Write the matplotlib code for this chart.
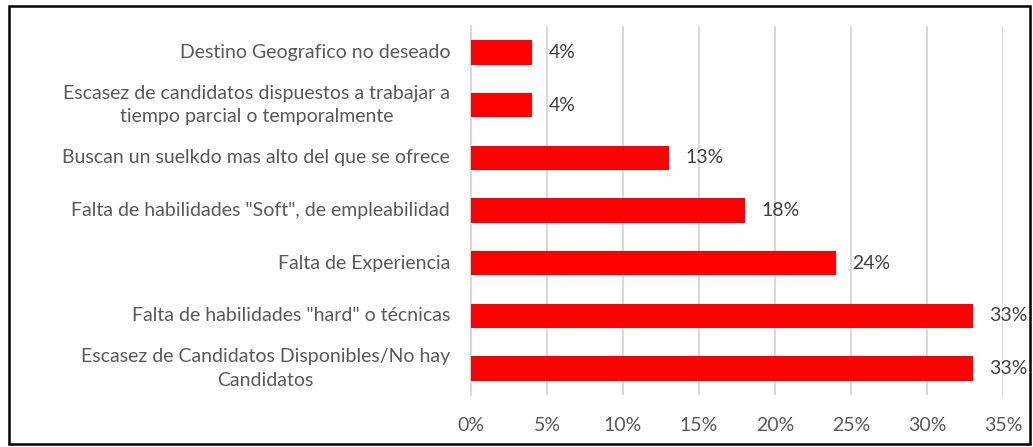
import matplotlib
matplotlib.use("Agg")
import matplotlib.pyplot as plt
from matplotlib.patches import Rectangle
from matplotlib.ticker import FuncFormatter
from matplotlib.transforms import offset_copy

categories = [
    "Destino Geografico no deseado",
    "Escasez de candidatos dispuestos a trabajar a\ntiempo parcial o temporalmente",
    "Buscan un suelkdo mas alto del que se ofrece",
    "Falta de habilidades \"Soft\", de empleabilidad",
    "Falta de Experiencia",
    "Falta de habilidades \"hard\" o técnicas",
    "Escasez de Candidatos Disponibles/No hay\nCandidatos",
]
values = [4, 4, 13, 18, 24, 33, 33]
xticks = [0, 5, 10, 15, 20, 25, 30, 35]

plt.rcParams['font.family'] = ['Lato', 'DejaVu Sans']
FS = 14

fig = plt.figure(figsize=(10.33, 4.47), dpi=100)
ax = fig.add_axes([471/1033, 1-395/447, (1003-471)/1033, (395-26)/447])

y = list(range(len(categories)))
ax.barh(y, values, height=0.465, color='#ff0000', zorder=3)
ax.set_ylim(len(categories)-0.5, -0.5)
ax.set_xlim(0, 35)
ax.set_xticks(xticks)
ax.xaxis.set_major_formatter(FuncFormatter(lambda v, p: f"{v:.0f}%"))
ax.set_yticks(y)
ax.set_yticklabels([])
ax.tick_params(axis='both', length=0, labelsize=FS, labelcolor='#595959')
ax.tick_params(axis='x', pad=16)
ax.grid(axis='x', color='#d9d9d9', linewidth=1.5, zorder=0)
for s in ['top', 'right', 'bottom']:
    ax.spines[s].set_visible(False)
ax.spines['left'].set_color('#d9d9d9')
ax.spines['left'].set_linewidth(1.5)

lab_tr = offset_copy(ax.get_yaxis_transform(), fig=fig, x=-21, y=0, units='dots')
for yi, c in zip(y, categories):
    ax.text(0, yi, c, transform=lab_tr, ha='right', va='center',
            multialignment='center', linespacing=1.45,
            fontsize=FS, color='#595959')

for yi, v in zip(y, values):
    ax.annotate(f"{v}%", xy=(v, yi), xytext=(12, 0), textcoords='offset points',
                va='center', ha='left', fontsize=FS, color='#404040')

fig.patches.append(Rectangle((9/1033, 1-444/447), (1030-9)/1033, (444-6)/447,
                             transform=fig.transFigure, fill=False,
                             edgecolor='black', linewidth=1.8))

fig.savefig("out.png", dpi=100)
